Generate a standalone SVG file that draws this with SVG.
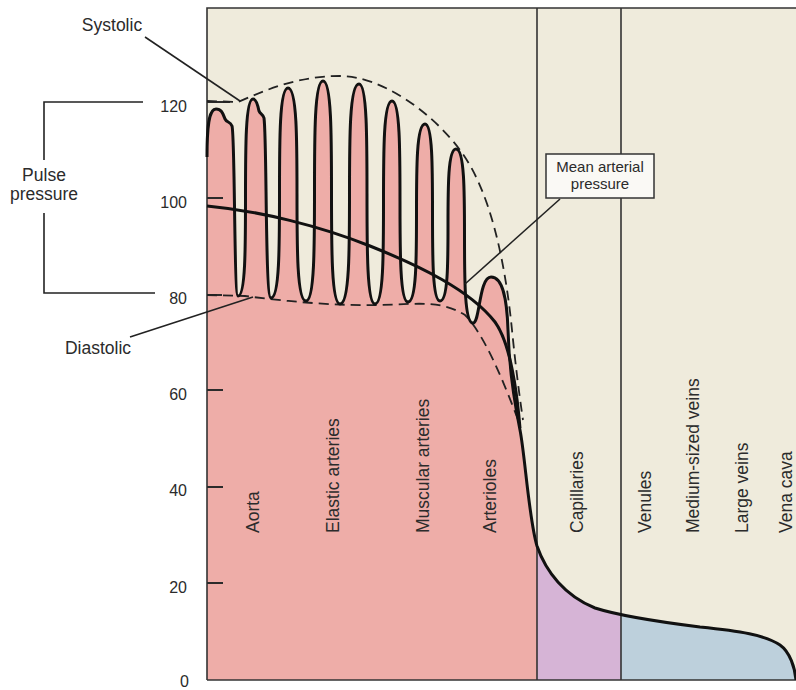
<svg xmlns="http://www.w3.org/2000/svg" width="796" height="690" viewBox="0 0 796 690">
<style>
.lbl{font-family:"Liberation Sans",Arial,sans-serif;font-size:17.5px;fill:#2b2b2b}
.num{font-family:"Liberation Sans",Arial,sans-serif;font-size:16px;fill:#2b2b2b;text-anchor:end}
.box{font-family:"Liberation Sans",Arial,sans-serif;font-size:15px;fill:#2b2b2b;text-anchor:middle}
.frame{stroke:#333;stroke-width:1.6;fill:none}
.tick{stroke:#2b2b2b;stroke-width:2;fill:none}
.lead{stroke:#222;stroke-width:1.6;fill:none}
.dash{stroke:#222;stroke-width:1.8;fill:none;stroke-dasharray:10 6}
.curve{stroke:#111;stroke-width:3;fill:none;stroke-linejoin:round}
</style>
<defs>
<clipPath id="area">
<path d="M207,680 L207,157 C207,120 210,109 216,109 C222,109 223,114 225,119 C227,123 230,121 232,126 C235,135 234,296 238,296 C253,296 238,99 253,99 C256,99 258,106 259,111 C260,114 263,114 264,118 C267,140 265,298 271,298 C288,298 271,88 288,88 C306,88 288,301 306,301 C323,301 306,81 323,81 C340,81 323,304 340,304 C359,304 340,84 359,84 C375,84 359,304 375,304 C392,304 375,101 392,101 C408,101 392,302 408,302 C425,302 408,124 425,124 C440,124 425,301 440,301 C456,301 440,149 456,149 C473,149 456,323 473,323 C480,323 479,277 491,277 C503,277 507,300 508,330 C509,370 515,405 520,430 C525,455 529,520 537,546 C546,572 565,596 595,608 C620,616 660,622 700,627 C740,631 765,635 780,645 C790,652 795,668 796,680 Z"/>
</clipPath>
</defs>
<rect x="0" y="0" width="796" height="690" fill="#ffffff"/>
<g id="chart-background">
<rect x="207" y="8" width="589" height="672" fill="#EFEBDC"/>
</g>
<g id="fills" clip-path="url(#area)">
<rect x="207" y="8" width="330" height="672" fill="#EEADA8"/>
<rect x="537" y="8" width="84" height="672" fill="#D6B4D6"/>
<rect x="621" y="8" width="175" height="672" fill="#BDD0DC"/>
</g>
<g id="frame">
<path class="frame" d="M207,680 L207,8 L796,8"/>
<path class="frame" d="M207,680 L796,680"/>
<path class="frame" d="M537,8 L537,680"/>
<path class="frame" d="M621,8 L621,680"/>
</g>
<g id="ticks">
<path class="tick" d="M207,102 L230,102 M207,198 L223,198 M207,295 L222,295 M207,390 L223,390 M207,487 L223,487 M207,583 L223,583"/>
</g>
<g id="connectors">
<path class="dash" d="M207,101 L238,102 C270,88 300,76 340,76 C380,76 430,110 460,150 C490,190 505,260 512,330 C516,370 520,400 523,420"/>
<path class="dash" d="M207,295 L245,296 C290,302 340,306 380,305 C420,304 440,300 465,315 C485,335 505,385 520,425"/>
<path class="curve" d="M207,157 C207,120 210,109 216,109 C222,109 223,114 225,119 C227,123 230,121 232,126 C235,135 234,296 238,296 C253,296 238,99 253,99 C256,99 258,106 259,111 C260,114 263,114 264,118 C267,140 265,298 271,298 C288,298 271,88 288,88 C306,88 288,301 306,301 C323,301 306,81 323,81 C340,81 323,304 340,304 C359,304 340,84 359,84 C375,84 359,304 375,304 C392,304 375,101 392,101 C408,101 392,302 408,302 C425,302 408,124 425,124 C440,124 425,301 440,301 C456,301 440,149 456,149 C473,149 456,323 473,323 C480,323 479,277 491,277 C503,277 507,300 508,330 C509,370 515,405 520,430 C525,455 529,520 537,546 C546,572 565,596 595,608 C620,616 660,622 700,627 C740,631 765,635 780,645 C790,652 795,668 796,680"/>
<path class="curve" d="M207,206 C260,211 320,226 370,246 C420,266 470,290 495,322 C508,340 516,380 520,428"/>
<path class="lead" d="M145,37 L240,101"/>
<path class="lead" d="M130,337 L253,297"/>
<path class="lead" d="M560,199 L465,284"/>
<path class="lead" d="M143,102 L44,102 L44,160"/>
<path class="lead" d="M44,213 L44,293 L155,293"/>
</g>
<g id="y-axis-labels">
<text class="num" x="187" y="112">120</text>
<text class="num" x="187" y="208">100</text>
<text class="num" x="187" y="304">80</text>
<text class="num" x="187" y="400">60</text>
<text class="num" x="187" y="496">40</text>
<text class="num" x="187" y="593">20</text>
<text class="num" x="189" y="687">0</text>
</g>
<g id="systolic-label"><text class="lbl" x="112" y="31" text-anchor="middle">Systolic</text></g>
<g id="pulse-pressure-label"><text class="lbl" x="44" y="181" text-anchor="middle">Pulse</text><text class="lbl" x="44" y="200" text-anchor="middle">pressure</text></g>
<g id="diastolic-label"><text class="lbl" x="98" y="354" text-anchor="middle">Diastolic</text></g>
<g id="map-label">
<rect x="546" y="154" width="108" height="44" fill="#FAF9F5" stroke="#333" stroke-width="1.5"/>
<text class="box" x="600" y="172">Mean arterial</text>
<text class="box" x="600" y="189">pressure</text>
</g>
<g id="vessel-labels">
<text class="lbl" transform="translate(259,533) rotate(-90)">Aorta</text>
<text class="lbl" transform="translate(339,533) rotate(-90)">Elastic arteries</text>
<text class="lbl" transform="translate(429,533) rotate(-90)">Muscular arteries</text>
<text class="lbl" transform="translate(496,533) rotate(-90)">Arterioles</text>
<text class="lbl" transform="translate(583,533) rotate(-90)">Capillaries</text>
<text class="lbl" transform="translate(651,533) rotate(-90)">Venules</text>
<text class="lbl" transform="translate(699,533) rotate(-90)">Medium-sized veins</text>
<text class="lbl" transform="translate(748,533) rotate(-90)">Large veins</text>
<text class="lbl" transform="translate(792,533) rotate(-90)">Vena cava</text>
</g>
</svg>
